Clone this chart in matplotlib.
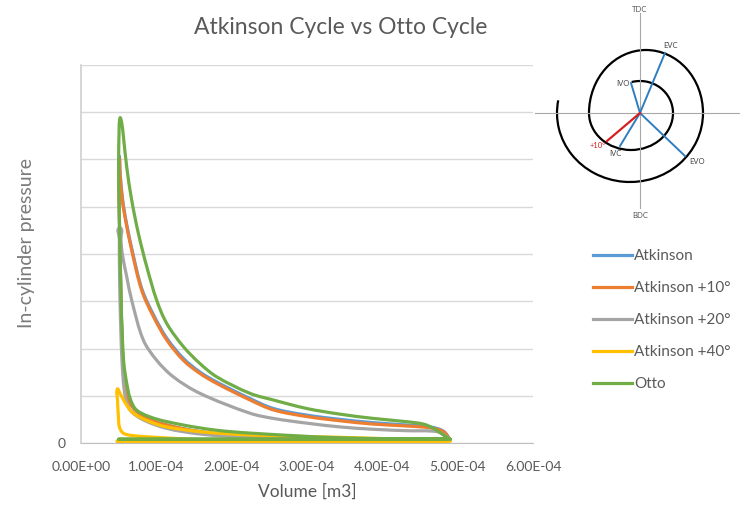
import numpy as np
import matplotlib.pyplot as plt
from matplotlib.patches import Arc, PathPatch
from matplotlib.path import Path
from matplotlib.lines import Line2D
from matplotlib.ticker import FuncFormatter

plt.rcParams['font.family'] = ['Lato', 'DejaVu Sans']

# volume in 1e-4 m3, pressure in bar
# compression: BDC -> peak, expansion: after peak -> BDC
otto_cv = [4.90, 3.44, 2.24, 1.80, 1.36, 0.92, 0.70, 0.585, 0.55, 0.53, 0.515, 0.503, 0.50, 0.505, 0.518]
otto_cp = [0.8, 1.1, 2.1, 2.7, 3.8, 5.5, 7.7, 14.8, 22.0, 32.0, 43.0, 53.0, 60.0, 65.5, 68.8]
otto_ev = [0.540, 0.562, 0.607, 0.673, 0.761, 0.873, 1.005, 1.138, 1.359, 1.580, 1.802, 2.244,
           2.554, 2.997, 3.440, 3.882, 4.325, 4.546, 4.679, 4.811, 4.900]
otto_ep = [67.8, 65.0, 58.4, 51.4, 44.4, 37.3, 30.2, 25.3, 20.4, 16.8, 14.0, 10.5,
           9.1, 7.3, 6.1, 5.2, 4.5, 4.0, 3.1, 1.7, 0.8]

atk10_cv = [4.90, 3.44, 2.24, 1.58, 1.14, 0.83, 0.65, 0.58, 0.545, 0.525, 0.51, 0.505, 0.508]
atk10_cp = [0.7, 0.8, 1.3, 2.4, 3.8, 5.6, 8.4, 12.3, 21.8, 35.0, 47.0, 55.0, 60.0]
atk10_ev = [0.518, 0.545, 0.584, 0.673, 0.806, 0.960, 1.138, 1.359, 1.580, 1.802, 2.244,
            2.554, 2.997, 3.440, 3.882, 4.325, 4.635, 4.811, 4.900]
atk10_ep = [57.0, 52.0, 47.8, 40.8, 32.3, 26.8, 21.8, 17.5, 14.7, 12.6, 9.1,
            7.0, 5.6, 4.7, 4.0, 3.6, 3.2, 2.4, 0.7]

atk_cv = [4.90, 3.44, 2.24, 1.58, 1.14, 0.83, 0.65, 0.58, 0.545, 0.525, 0.51, 0.505, 0.508]
atk_cp = [0.7, 0.8, 1.3, 2.4, 3.8, 5.6, 8.4, 12.3, 21.8, 35.0, 47.0, 55.0, 60.5]
atk_ev = [0.518, 0.545, 0.584, 0.673, 0.806, 0.960, 1.138, 1.359, 1.580, 1.802, 2.244,
          2.554, 2.997, 3.440, 3.882, 4.325, 4.635, 4.811, 4.900]
atk_ep = [57.5, 52.5, 48.2, 41.2, 32.7, 27.2, 22.2, 17.9, 15.0, 12.9, 9.4,
          7.3, 5.9, 5.0, 4.3, 3.8, 3.4, 2.5, 0.7]

atk20_cv = [4.90, 2.91, 2.244, 1.58, 1.138, 0.827, 0.651, 0.584, 0.544, 0.518, 0.510, 0.510, 0.515]
atk20_cp = [0.7, 0.7, 1.1, 1.9, 3.1, 4.9, 7.0, 10.1, 17.5, 30.0, 38.0, 43.0, 45.5]
atk20_ev = [0.530, 0.545, 0.607, 0.673, 0.827, 1.005, 1.226, 1.580, 2.244, 2.554, 2.997, 3.440,
            3.882, 4.325, 4.724, 4.857, 4.900]
atk20_ep = [43.0, 40.3, 35.2, 30.2, 21.8, 17.5, 14.0, 10.5, 6.3, 5.2, 4.2, 3.4,
            2.9, 2.6, 2.4, 1.3, 0.7]

atk40_cv = [4.90, 2.5, 1.8, 1.33, 0.89, 0.67, 0.56, 0.51, 0.495, 0.485, 0.482]
atk40_cp = [0.4, 0.4, 0.6, 0.9, 1.3, 1.6, 2.1, 3.4, 6.0, 9.0, 11.4]
atk40_ev = [0.518, 0.607, 0.695, 0.916, 1.138, 1.580, 2.244, 3.44, 4.90]
atk40_ep = [10.5, 8.0, 6.3, 4.5, 3.4, 2.4, 1.7, 1.2, 0.5]

# gas exchange line: volume at TDC and pressure
v_tdc = [0.50, 0.50, 0.50, 0.48, 0.50]
p_low = [0.7, 0.7, 0.7, 0.4, 0.8]

names = ["Atkinson", "Atkinson +10°", "Atkinson +20°", "Atkinson +40°", "Otto"]
colors = ['#5B9BD5', '#ED7D31', '#A5A5A5', '#FFC000', '#70AD47']
curves = [(atk_cv, atk_cp, atk_ev, atk_ep), (atk10_cv, atk10_cp, atk10_ev, atk10_ep),
          (atk20_cv, atk20_cp, atk20_ev, atk20_ep), (atk40_cv, atk40_cp, atk40_ev, atk40_ep),
          (otto_cv, otto_cp, otto_ev, otto_ep)]

# valve timing sketch (pixel offsets from the circle centre)
valve_names = ['EVC', 'IVO', 'EVO', 'IVC']
valve_x = [25, -9, 45, -20]
valve_y = [60, 30, -43, -33]
valve_lx = [30, -17, 57, -25]
valve_ly = [68, 29, -49, -40]
late_ivc = (-33, -28)

SX, SY = 75.3e4, 4.73   # roughly pixels per m3 / per bar, used to smooth in screen-like space


def loop_path(vt, pl, cv, cp, ev, ep):
    pts = np.column_stack([np.r_[cv, ev] * 1e-4 * SX, np.r_[cp, ep] * SY])
    verts = [(vt * 1e-4 * SX, pl * SY), pts[0]]
    codes = [Path.MOVETO, Path.LINETO]
    n = len(pts)
    for i in range(n - 1):
        a, b = pts[i], pts[i + 1]
        L = np.hypot(*(b - a))
        ta = pts[i + 1] - pts[i - 1] if i > 0 else b - a
        tb = pts[i + 2] - pts[i] if i + 2 < n else b - a
        ta = ta / np.hypot(*ta)
        tb = tb / np.hypot(*tb)
        verts += [a + ta * L / 3, b - tb * L / 3, b]
        codes += [Path.CURVE4] * 3
    verts.append((vt * 1e-4 * SX, pl * SY))
    codes.append(Path.LINETO)
    verts = np.array(verts, dtype=float)
    verts[:, 0] /= SX
    verts[:, 1] /= SY
    return Path(verts, codes)


txt = '#595959'
fig = plt.figure(figsize=(7.5, 5.19), dpi=100)
ax = fig.add_axes([81 / 750, 76 / 519, 452 / 750, 378 / 519])

handles = []
for name, c, (cv, cp, ev, ep), vt, pl in zip(names, colors, curves, v_tdc, p_low):
    ax.add_patch(PathPatch(loop_path(vt, pl, cv, cp, ev, ep), fill=False, edgecolor=c,
                           lw=2.3, joinstyle='round', capstyle='round'))
    handles.append(Line2D([], [], color=c, lw=2.3))

ax.set_xlim(0, 6e-4)
ax.set_ylim(0, 80)
ax.set_xticks(np.arange(0, 6.01e-4, 1e-4))
ax.xaxis.set_major_formatter(FuncFormatter(lambda x, pos: f"{x:.2E}"))
ax.set_yticks(np.arange(0, 81, 10))
ax.set_yticklabels(['0'] + [''] * 8)
ax.tick_params(axis='x', length=0, pad=13, labelsize=10, labelcolor=txt)
ax.tick_params(axis='y', length=0, pad=11, labelsize=10, labelcolor=txt)
ax.grid(axis='y', color='#D9D9D9', lw=1)
ax.set_axisbelow(True)
for s in ['top', 'right']:
    ax.spines[s].set_visible(False)
ax.spines['left'].set_color('#D0D0D0')
ax.spines['bottom'].set_color('#BFBFBF')
ax.spines['left'].set_linewidth(1.2)

ax.set_xlabel("Volume [m3]", fontsize=12.5, color=txt)
ax.xaxis.set_label_coords(0.5, -0.108)
ax.set_ylabel("In-cylinder pressure", fontsize=14, color='#7A7A7A')
ax.yaxis.set_label_coords(-0.102, 0.529)
fig.text(341 / 750, 1 - 28 / 519, "Atkinson Cycle vs Otto Cycle", fontsize=16.5,
         color=txt, ha='center', va='center')

leg = ax.legend(handles, names, loc='upper left', bbox_to_anchor=(593 / 750, 1 - 249 / 519),
                bbox_transform=fig.transFigure, frameon=False, fontsize=11,
                handlelength=2.55, handletextpad=0.15, labelspacing=1.18,
                borderpad=0, borderaxespad=0)
for t in leg.get_texts():
    t.set_color(txt)

# inset sketch
ax2 = fig.add_axes([530 / 750, 1 - 230 / 519, 220 / 750, 230 / 519])
ax2.set_xlim(-110, 110)
ax2.set_ylim(-117, 113)
ax2.axis('off')
ax2.plot([-105, 99], [0, 0], color='#A8A8A8', lw=0.8)
ax2.plot([0, 0], [-95, 100], color='#A8A8A8', lw=0.8)
ax2.text(0, 103, 'TDC', fontsize=5.5, color='#555555', ha='center', va='center')
ax2.text(0, -103, 'BDC', fontsize=5.5, color='#555555', ha='center', va='center')
for xy, w, h, t1, t2 in [((0, 0), 66, 64, 0, 105), ((-9, 0), 84, 74, 180, 360),
                         ((6, 0), 114, 126, 0, 180), ((-10, 0), 146, 138, 170, 360)]:
    ax2.add_patch(Arc(xy, w, h, theta1=t1, theta2=t2, color='black', lw=1.6))
for name, x, y, lx, ly in zip(valve_names, valve_x, valve_y, valve_lx, valve_ly):
    ax2.plot([0, x], [0, y], color='#2E7DC0', lw=1.4)
    ax2.text(lx, ly, name, fontsize=5.5, color='#444444', ha='center', va='center')
ax2.plot([0, late_ivc[0]], [0, late_ivc[1]], color='#D62020', lw=1.6)
ax2.text(-42, -33, '+10°', fontsize=5.5, color='#D62020', ha='center', va='center')

fig.savefig('out.png', dpi=100, facecolor='white')
